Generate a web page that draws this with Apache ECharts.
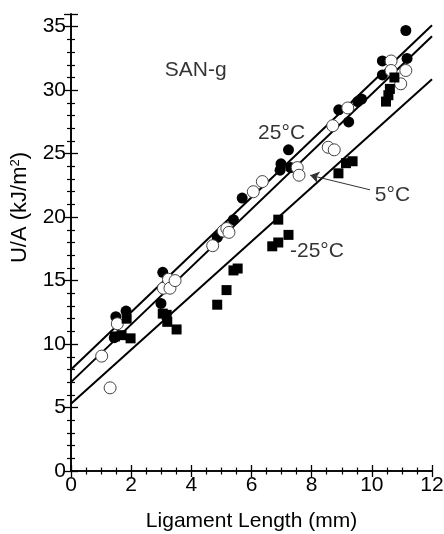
<!DOCTYPE html>
<html>
<head>
<meta charset="utf-8">
<script src="https://cdn.jsdelivr.net/npm/echarts@6/dist/echarts.min.js"></script>
<style>
  html, body { margin: 0; padding: 0; background: #fff; }
  #chart { width: 444px; height: 534px; }
</style>
</head>
<body>
<div id="chart"></div>
<script>
// Fracture energy per ligament area vs. ligament length, SAN-g at three temperatures
const len25 = [1.49, 1.83, 1.44, 3.05, 2.99, 4.86, 5.40, 5.69, 6.95, 6.98, 7.23, 7.30, 8.90, 9.23, 9.53, 9.66, 10.35, 10.35, 11.13, 11.17];
const ua25  = [12.15, 12.6, 10.5, 15.65, 13.2, 18.4, 19.8, 21.5, 23.7, 24.2, 25.3, 23.9, 28.45, 27.5, 29.1, 29.3, 32.3, 31.2, 34.7, 32.5];

const len5 = [1.02, 1.30, 1.54, 3.07, 3.24, 3.29, 3.46, 4.71, 5.06, 5.18, 5.25, 6.06, 6.36, 7.52, 7.58, 8.55, 8.75, 8.70, 9.20, 10.64, 10.64, 11.13, 10.96];
const ua5  = [9.05, 6.55, 11.6, 14.4, 15.1, 14.4, 15.0, 17.75, 18.9, 19.1, 18.8, 22.0, 22.8, 23.9, 23.3, 25.5, 25.3, 27.2, 28.6, 32.3, 31.55, 31.55, 30.5];

const lenM25 = [1.46, 1.68, 1.85, 1.98, 3.05, 3.18, 3.20, 3.51, 4.86, 5.17, 5.40, 5.54, 6.69, 6.89, 7.23, 6.89, 8.89, 9.14, 9.36, 10.47, 10.55, 10.60, 10.75];
const uaM25  = [10.6, 10.7, 12.0, 10.45, 12.4, 12.3, 11.75, 11.15, 13.1, 14.25, 15.8, 15.95, 17.7, 18.0, 18.6, 19.8, 23.45, 24.25, 24.4, 29.1, 29.6, 30.1, 31.0];

// Linear fits: U/A = intercept + slope * L, drawn over 0..12 mm
const fitNames      = ['25°C', '5°C', '-25°C'];
const fitIntercepts = [8.0, 7.0, 5.3];
const fitSlopes     = [2.26, 2.27, 2.13];
const fitRange      = [0, 12];

const xTicks = [0, 2, 4, 6, 8, 10, 12];
const yTicks = [0, 5, 10, 15, 20, 25, 30, 35];

const pairs = (xs, ys) => xs.map((x, i) => [x, ys[i]]);
const FONT = '"Liberation Sans", Arial, Helvetica, sans-serif';

const chart = echarts.init(document.getElementById('chart'), null, { renderer: 'canvas' });

const axisLine = { show: true, lineStyle: { color: '#000', width: 1.6 } };
const xAxisBase = {
  type: 'value', min: xTicks[0], max: xTicks[xTicks.length - 1], interval: 2,
  axisLine, splitLine: { show: false },
  axisTick: { show: true, inside: true, length: 6, lineStyle: { color: '#000', width: 1.3 } },
  minorTick: { show: true, splitNumber: 4, length: 3.5, lineStyle: { color: '#000', width: 1.2 } },
  minorSplitLine: { show: false }
};
const yAxisBase = {
  type: 'value', min: yTicks[0], max: 36, interval: 5,
  axisLine, splitLine: { show: false },
  axisTick: { show: true, inside: true, length: 7, lineStyle: { color: '#000', width: 1.3 } },
  minorTick: { show: true, splitNumber: 5, length: 4, lineStyle: { color: '#000', width: 1.2 } },
  minorSplitLine: { show: false }
};

const fitSeries = fitNames.map((name, i) => ({
  name: 'fit ' + name,
  type: 'line',
  data: fitRange.map(x => [x, fitIntercepts[i] + fitSlopes[i] * x]),
  showSymbol: false,
  symbol: 'none',
  lineStyle: { color: '#000', width: 2 },
  z: 2,
  silent: true
}));

// Text annotations placed in data coordinates
const notes = [
  { value: [3.12, 31.6], text: 'SAN-g', align: 'left' },
  { value: [7.0, 26.6], text: '25°C', align: 'center' },
  { value: [10.1, 21.75], text: '5°C', align: 'left' },
  { value: [7.28, 17.3], text: '-25°C', align: 'left' }
];
const arrowFrom = [9.94, 22.15];
const arrowTo = [7.95, 23.3];

chart.setOption({
  animation: false,
  backgroundColor: '#fff',
  grid: { left: 71, right: 12, top: 14, bottom: 63, containLabel: false, outerBoundsMode: 'none' },
  xAxis: [
    Object.assign({}, xAxisBase, {
      position: 'bottom',
      name: 'Ligament Length (mm)', nameLocation: 'middle', nameGap: 40,
      nameTextStyle: { fontFamily: FONT, fontSize: 21, color: '#000' },
      axisLabel: { show: true, margin: 4, fontFamily: FONT, fontSize: 21, color: '#000' }
    }),
    Object.assign({}, xAxisBase, { position: 'top', axisLabel: { show: false } })
  ],
  yAxis: [
    Object.assign({}, yAxisBase, {
      position: 'left',
      name: 'U/A (kJ/m{sup|2})', nameLocation: 'middle', nameGap: 40,
      nameTextStyle: {
        fontFamily: FONT, fontSize: 22, color: '#000', padding: [0, 0, 0, 70],
        rich: { sup: { fontFamily: FONT, fontSize: 13, color: '#000', verticalAlign: 'top', padding: [0, 0, 9, 0] } }
      },
      axisLabel: { show: true, margin: 5, fontFamily: FONT, fontSize: 21, color: '#000' }
    }),
    Object.assign({}, yAxisBase, { position: 'right', axisLabel: { show: false } })
  ],
  series: [
    ...fitSeries,
    {
      name: '25°C', type: 'scatter', data: pairs(len25, ua25),
      symbol: 'circle', symbolSize: 11,
      itemStyle: { color: '#000', opacity: 1 }, z: 3
    },
    {
      name: '5°C', type: 'scatter', data: pairs(len5, ua5),
      symbol: 'circle', symbolSize: 12,
      itemStyle: { color: '#fff', borderColor: '#444', borderWidth: 1, opacity: 1 }, z: 4
    },
    {
      name: '-25°C', type: 'scatter', data: pairs(lenM25, uaM25),
      symbol: 'rect', symbolSize: 10,
      itemStyle: { color: '#000', opacity: 1 }, z: 5
    },
    {
      name: 'notes', type: 'scatter', symbolSize: 0, silent: true, z: 6,
      data: notes.map(n => ({
        value: n.value,
        label: {
          show: true, position: 'inside', formatter: n.text, align: n.align,
          fontFamily: FONT, fontSize: 21, color: '#000'
        }
      })),
      markLine: {
        silent: true, animation: false,
        symbol: ['none', 'arrow'], symbolSize: 9,
        label: { show: false },
        lineStyle: { color: '#333', width: 1, type: 'solid' },
        itemStyle: { color: '#000' },
        data: [[{ coord: arrowFrom }, { coord: arrowTo }]]
      }
    }
  ]
});
</script>
</body>
</html>
